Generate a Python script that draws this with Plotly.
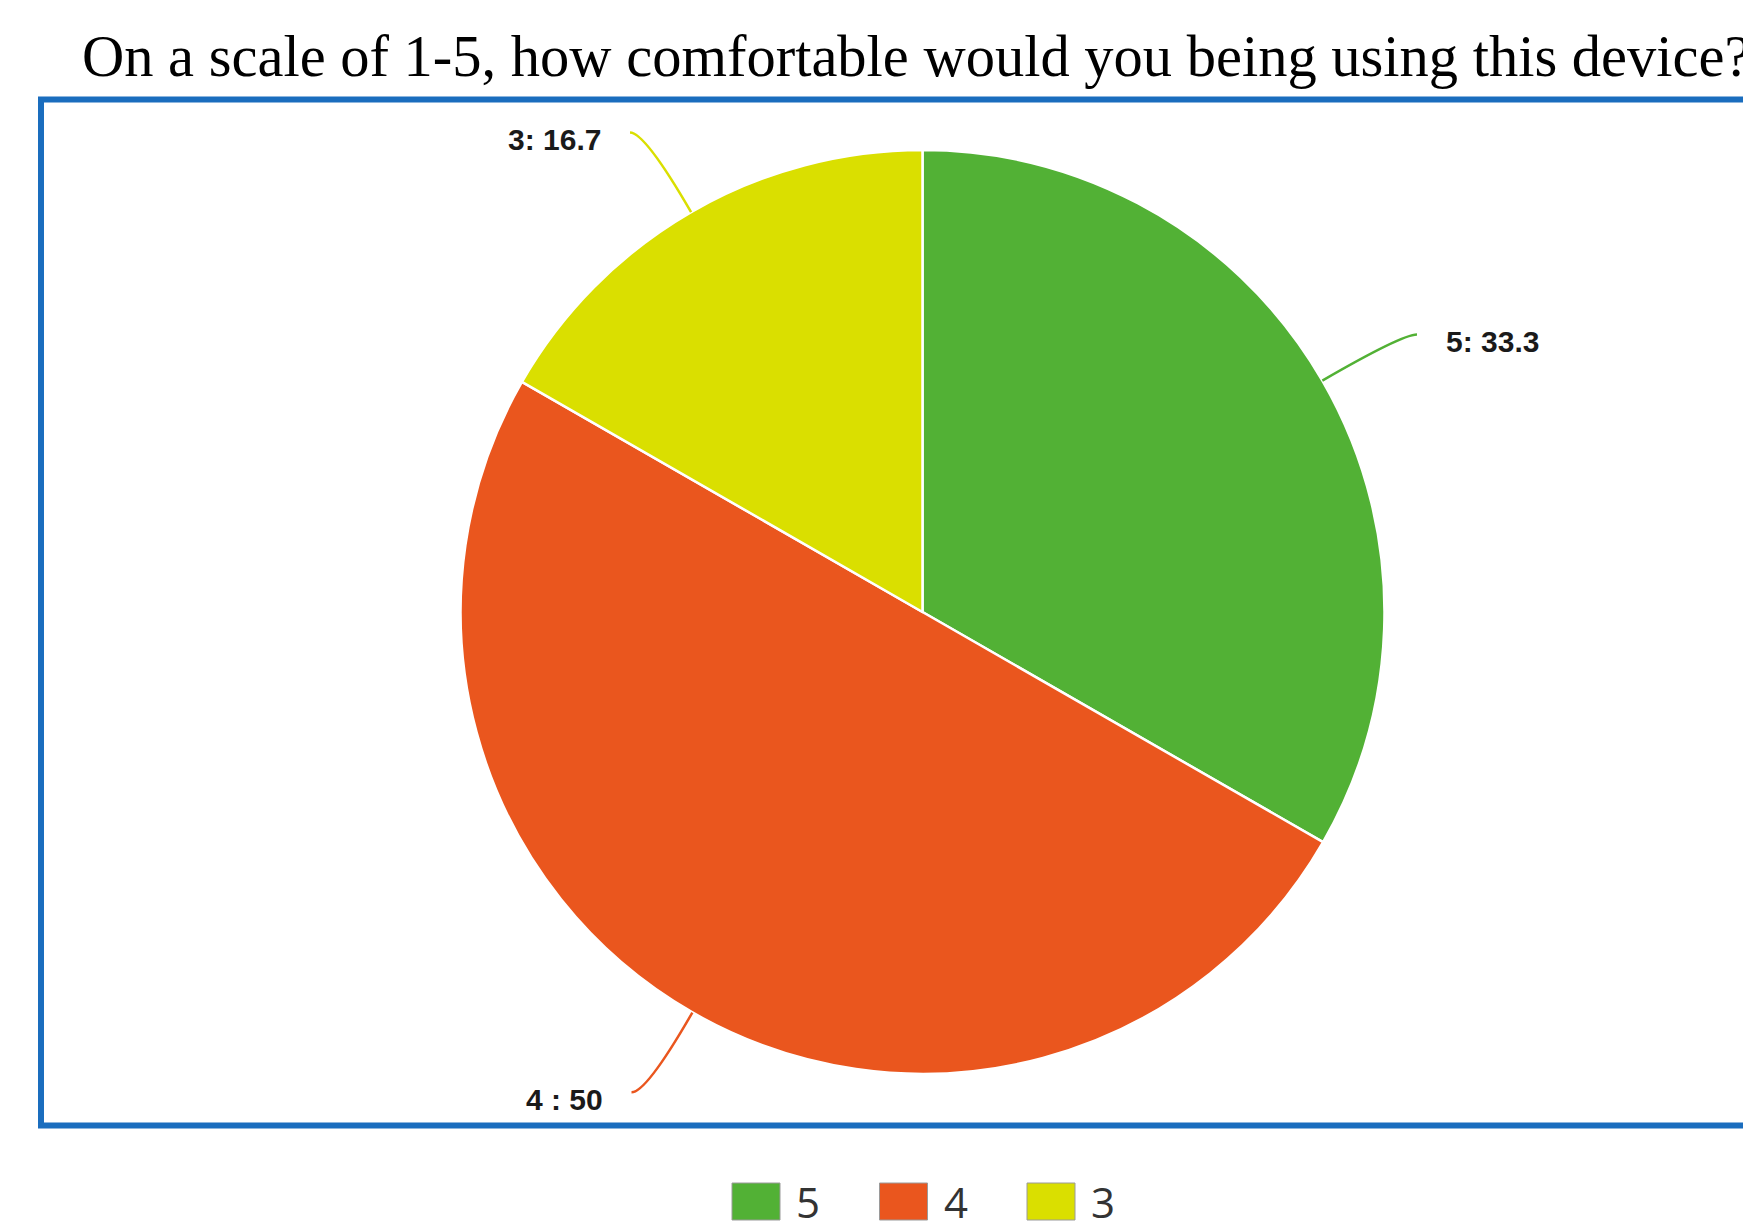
import math
import plotly.graph_objects as go

# ---- data ----
labels = ["5", "4", "3"]
values = [33.3, 50, 16.7]
label_texts = ["5: 33.3", "4 : 50", "3: 16.7"]
colors = ["#52B135", "#EA561E", "#DADF00"]
title = "On a scale of 1-5, how comfortable would you being using this device?"

W, H = 1743, 1226

# pie geometry (pixels)
cx, cy, r = 922.5, 612.0, 462.0
dom_x = [(cx - r) / W, (cx + r) / W]
dom_y = [(H - cy - r) / H, (H - cy + r) / H]


def px(x):
    return x / W


def py(y):
    return 1 - y / H


fig = go.Figure()
fig.add_trace(go.Pie(
    labels=labels, values=values, sort=False, direction="clockwise", rotation=0,
    marker=dict(colors=colors, line=dict(color="white", width=2.5)),
    textinfo="none", hoverinfo="label+value", showlegend=False,
    domain=dict(x=dom_x, y=dom_y),
))

shapes = []
annotations = []

# frame
shapes.append(dict(type="rect", xref="paper", yref="paper",
                   x0=px(41), x1=px(1800), y0=py(1125.5), y1=py(99.5),
                   line=dict(color="#1A6DBE", width=6), fillcolor="rgba(0,0,0,0)", layer="below"))

# title
annotations.append(dict(text=title, xref="paper", yref="paper", x=px(80), y=py(57),
                        xanchor="left", yanchor="middle", showarrow=False,
                        font=dict(family="Liberation Serif", size=58.5, color="black")))

# leader lines and labels, computed from slice mid-angles
total = sum(values)
cum = 0.0
ext, hook = 92.0, 15.0
for lab, v, col in zip(label_texts, values, colors):
    mid = (cum + v / 2) / total * 2 * math.pi
    cum += v
    dx, dy = math.sin(mid), -math.cos(mid)
    x0, y0 = cx + r * dx, cy + r * dy
    x1, y1 = cx + (r + ext) * dx, cy + (r + ext) * dy
    side = 1 if dx >= 0 else -1
    x2, y2 = x1 + side * hook, y1
    path = (f"M {px(x0)},{py(y0)} Q {px(x1)},{py(y1)} {px(x2)},{py(y2)}")
    shapes.append(dict(type="path", xref="paper", yref="paper", path=path,
                       line=dict(color=col, width=2.5)))
    annotations.append(dict(text=f"<b>{lab}</b>", xref="paper", yref="paper",
                            x=px(x2 + side * 27), y=py(y2 + 7),
                            xanchor="left" if side > 0 else "right", yanchor="middle",
                            showarrow=False,
                            font=dict(family="Liberation Sans", size=30, color="#1a1a1a")))

# legend
lx, ly, sw, sh, step = 732, 1183, 48, 37, 147.5
for i, (lab, col) in enumerate(zip(labels, colors)):
    x = lx + i * step
    shapes.append(dict(type="rect", xref="paper", yref="paper",
                       x0=px(x), x1=px(x + sw), y0=py(ly + sh), y1=py(ly),
                       fillcolor=col, line=dict(color="#9a9a9a", width=1)))
    annotations.append(dict(text=lab, xref="paper", yref="paper",
                            x=px(x + sw + 14), y=py(ly + sh / 2),
                            xanchor="left", yanchor="middle", showarrow=False,
                            font=dict(family="Open Sans", size=42, color="#333333")))

fig.update_layout(
    width=W, height=H, margin=dict(l=0, r=0, t=0, b=0),
    paper_bgcolor="white", plot_bgcolor="white",
    shapes=shapes, annotations=annotations, showlegend=False,
)

fig.write_html("out.html", config={"displayModeBar": False},
               post_script="document.body.style.margin='0';document.body.style.overflow='hidden';")
